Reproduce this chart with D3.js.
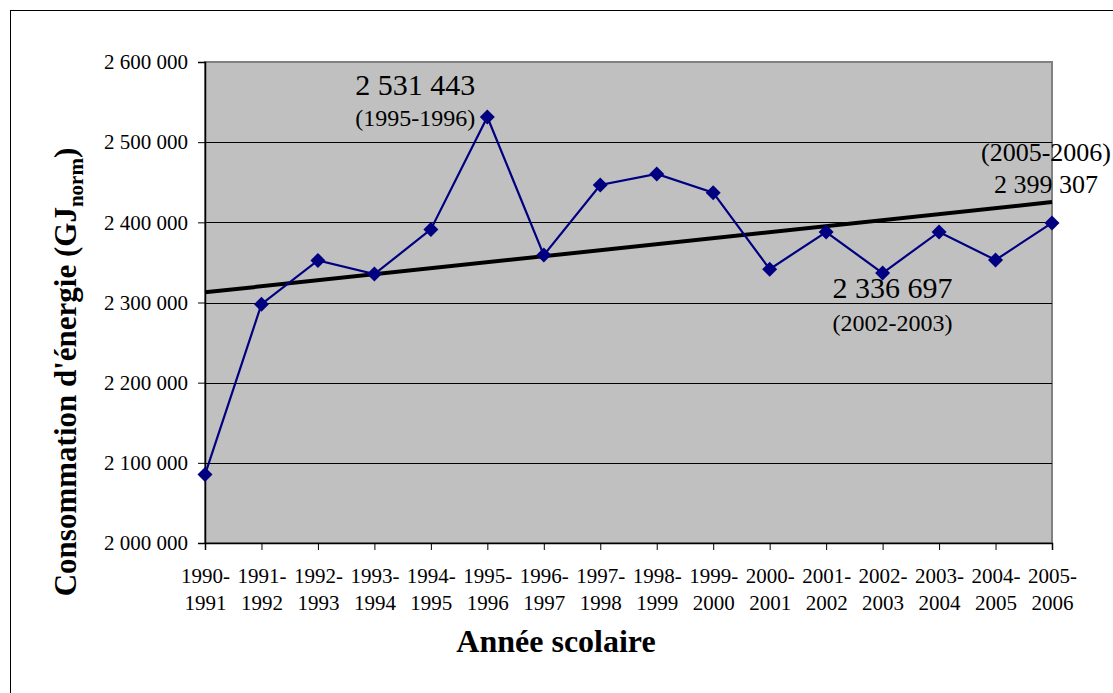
<!DOCTYPE html>
<html>
<head>
<meta charset="utf-8">
<script src="https://cdn.jsdelivr.net/npm/d3@7"></script>
<style>
  body { margin: 0; background: #fff; }
  svg { display: block; font-family: "Liberation Serif", "Times New Roman", serif; }
</style>
</head>
<body>
<svg id="chart" width="1113" height="693"></svg>
<script>
// school years
const years = ["1990-1991", "1991-1992", "1992-1993", "1993-1994", "1994-1995", "1995-1996",
  "1996-1997", "1997-1998", "1998-1999", "1999-2000", "2000-2001", "2001-2002",
  "2002-2003", "2003-2004", "2004-2005", "2005-2006"];
// energy use, GJ norm
const conso = [2085400, 2297900, 2352500, 2335400, 2391200, 2531443,
  2359100, 2446600, 2460400, 2437000, 2341600, 2387900,
  2336697, 2388000, 2353000, 2399307];
const yTicks = [2000000, 2100000, 2200000, 2300000, 2400000, 2500000, 2600000];
const labels = [
  { year: "1995-1996", value: 2531443 },
  { year: "2002-2003", value: 2336697 },
  { year: "2005-2006", value: 2399307 }
];

const margin = { top: 62, right: 61, bottom: 150, left: 205 },
    W = 1113, H = 693,
    width = W - margin.left - margin.right,
    height = H - margin.top - margin.bottom;

const svg = d3.select("#chart");

// outer frame
svg.append("rect")
  .attr("x", 10.5).attr("y", 10.5)
  .attr("width", W + 20).attr("height", H + 20)
  .attr("fill", "none").attr("stroke", "#000").attr("stroke-width", 1);

const g = svg.append("g").attr("transform", `translate(${margin.left},${margin.top})`);

const x = d3.scalePoint().domain(years).range([0, width]);
const y = d3.scaleLinear().domain([2000000, 2600000]).range([height, 0]);

const fmt = v => d3.format(",")(v).replace(/,/g, " ");

// plot area
g.append("rect")
  .attr("width", width).attr("height", height)
  .attr("fill", "#c0c0c0").attr("stroke", "#808080").attr("stroke-width", 2);

// gridlines
g.selectAll(".grid").data(yTicks.slice(1, -1)).enter().append("line")
  .attr("x1", 0).attr("x2", width)
  .attr("y1", d => Math.round(y(d)) + 0.5).attr("y2", d => Math.round(y(d)) + 0.5)
  .attr("stroke", "#000").attr("stroke-width", 1);

// y axis
const yAxis = g.append("g")
  .attr("font-size", 21).attr("font-family", "Liberation Serif")
  .call(d3.axisLeft(y).tickValues(yTicks).tickFormat(fmt).tickSize(7).tickPadding(10));
yAxis.attr("font-size", 21).attr("font-family", "Liberation Serif");
yAxis.select(".domain").attr("stroke", "#000").attr("stroke-width", 1.5);
yAxis.selectAll("text").attr("fill", "#000");

// x axis
const xAxis = g.append("g").attr("transform", `translate(0,${height})`)
  .call(d3.axisBottom(x).tickSize(7).tickFormat(""));
xAxis.attr("font-size", 21).attr("font-family", "Liberation Serif");
xAxis.select(".domain").attr("stroke", "#000").attr("stroke-width", 1.5);
xAxis.selectAll(".tick").each(function(d) {
  const parts = d.split("-");
  const t = d3.select(this).append("text")
    .attr("fill", "#000").attr("text-anchor", "middle");
  t.append("tspan").attr("x", 0).attr("y", 40).text(parts[0] + "-");
  t.append("tspan").attr("x", 0).attr("y", 67).text(parts[1]);
});

// trend line (least squares)
const n = conso.length;
const xs = d3.range(n);
const mx = d3.mean(xs), my = d3.mean(conso);
const slope = d3.sum(xs, i => (i - mx) * (conso[i] - my)) / d3.sum(xs, i => (i - mx) ** 2);
const icpt = my - slope * mx;
g.append("line")
  .attr("x1", x(years[0])).attr("y1", y(icpt))
  .attr("x2", x(years[n - 1])).attr("y2", y(icpt + slope * (n - 1)))
  .attr("stroke", "#000").attr("stroke-width", 4);

// series
g.append("path")
  .datum(conso)
  .attr("fill", "none").attr("stroke", "#000080").attr("stroke-width", 2.2)
  .attr("d", d3.line().x((d, i) => x(years[i])).y(d => y(d)));

g.selectAll(".pt").data(conso).enter().append("path")
  .attr("transform", (d, i) => `translate(${x(years[i])},${y(d)})`)
  .attr("d", "M0,-7.5L7.5,0L0,7.5L-7.5,0Z")
  .attr("fill", "#000080");

// annotations: [line text, dx, dy, size, anchor]
const ann = [
  [[fmt(labels[0].value), -72, -22, 30, "middle"], ["(" + labels[0].year + ")", -72, 9, 24, "middle"]],
  [[fmt(labels[1].value), 10, 25, 30, "middle"], ["(" + labels[1].year + ")", 10, 58, 24, "middle"]],
  [["(" + labels[2].year + ")", 59, -62, 26, "end"], [fmt(labels[2].value), 46, -30, 26, "end"]]
];
labels.forEach((lb, k) => {
  const px = x(lb.year), py = y(lb.value);
  ann[k].forEach(a => {
    g.append("text").attr("x", px + a[1]).attr("y", py + a[2])
      .attr("text-anchor", a[4]).attr("font-size", a[3]).attr("fill", "#000").text(a[0]);
  });
});

// axis titles
svg.append("text")
  .attr("x", 556).attr("y", 652)
  .attr("text-anchor", "middle").attr("font-size", 32).attr("font-weight", "bold")
  .text("Année scolaire");

const yt = svg.append("text")
  .attr("transform", "translate(76,372) rotate(-90)")
  .attr("text-anchor", "middle").attr("font-size", 31).attr("font-weight", "bold");
yt.append("tspan").text("Consommation d'énergie (GJ");
yt.append("tspan").attr("font-size", 21).attr("dy", 7).text("norm");
yt.append("tspan").attr("dy", -7).text(")");
</script>
</body>
</html>
